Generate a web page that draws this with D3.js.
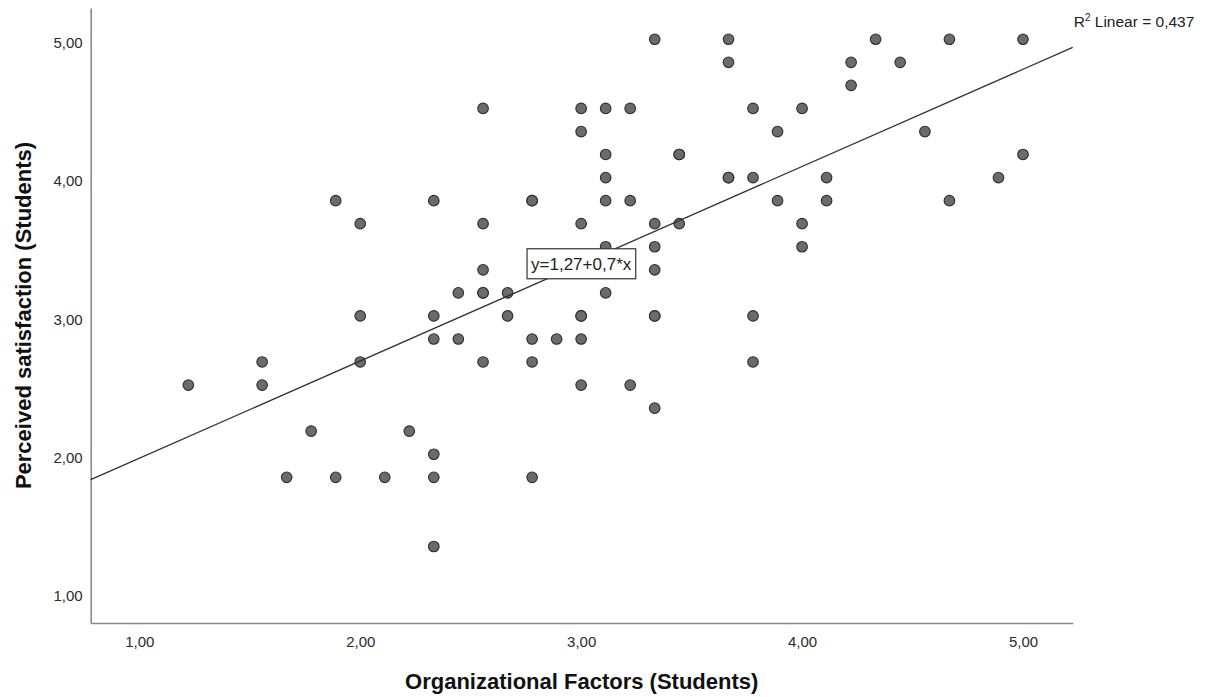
<!DOCTYPE html>
<html>
<head>
<meta charset="utf-8">
<script src="https://cdn.jsdelivr.net/npm/d3@7"></script>
<style>
  body { margin: 0; background: #fff; }
  svg { display: block; }
  text { font-family: "Liberation Sans", Arial, sans-serif; }
</style>
</head>
<body>
<svg id="chart" width="1208" height="697"></svg>
<script>
// ---- Data ----
const orgFactors = [
  1.222, 1.556, 1.556, 1.667, 1.778, 1.889, 1.889, 2.000, 2.000, 2.000,
  2.111, 2.222, 2.333, 2.333, 2.333, 2.333, 2.333, 2.333, 2.444, 2.444,
  2.556, 2.556, 2.556, 2.556, 2.556, 2.556, 2.667, 2.667, 2.778, 2.778,
  2.778, 2.778, 2.778, 2.889, 3.000, 3.000, 3.000, 3.000, 3.000, 3.000,
  3.000, 3.111, 3.111, 3.111, 3.111, 3.111, 3.111, 3.222, 3.222, 3.222,
  3.333, 3.333, 3.333, 3.333, 3.333, 3.333, 3.333, 3.444, 3.444, 3.444,
  3.667, 3.667, 3.667, 3.667, 3.778, 3.778, 3.778, 3.778, 3.889, 3.889,
  4.000, 4.000, 4.000, 4.111, 4.111, 4.222, 4.222, 4.333, 4.444, 4.556,
  4.667, 4.667, 4.889, 5.000, 5.000
];
const satisfaction = [
  2.500, 2.667, 2.500, 1.833, 2.167, 3.833, 1.833, 3.667, 3.000, 2.667,
  1.833, 2.167, 3.833, 3.000, 2.833, 2.000, 1.833, 1.333, 3.167, 2.833,
  4.500, 3.667, 3.333, 3.167, 3.167, 2.667, 3.167, 3.000, 3.833, 3.833,
  2.833, 2.667, 1.833, 2.833, 4.500, 4.333, 3.667, 3.000, 3.000, 2.833,
  2.500, 4.500, 4.167, 4.000, 3.833, 3.500, 3.167, 4.500, 3.833, 2.500,
  5.000, 3.667, 3.500, 3.333, 3.000, 3.000, 2.333, 4.167, 4.167, 3.667,
  5.000, 4.833, 4.000, 4.000, 4.500, 4.000, 3.000, 2.667, 4.333, 3.833,
  4.500, 3.667, 3.500, 4.000, 3.833, 4.833, 4.667, 5.000, 4.833, 4.333,
  5.000, 3.833, 4.000, 5.000, 4.167
];
const xTickValues = [1, 2, 3, 4, 5];
const xTickLabels = ["1,00", "2,00", "3,00", "4,00", "5,00"];
const yTickValues = [1, 2, 3, 4, 5];
const yTickLabels = ["1,00", "2,00", "3,00", "4,00", "5,00"];
const fitIntercept = 1.268;
const fitSlope = 0.703;
const fitEquationLabel = "y=1,27+0,7*x";
const r2Value = "0,437";
const xTitle = "Organizational Factors (Students)";
const yTitle = "Perceived satisfaction (Students)";

// ---- Layout ----
const plot = { left: 90.7, right: 1072.7, top: 8, bottom: 623 };
const xDomain = [0.78, 5.225];
const yDomain = [0.78, 5.226];

const svg = d3.select("#chart");
const x = d3.scaleLinear().domain(xDomain).range([plot.left, plot.right]);
const y = d3.scaleLinear().domain(yDomain).range([plot.bottom, plot.top]);

const points = orgFactors.map((v, i) => ({ x: v, y: satisfaction[i] }));

// Axes
const xAxis = d3.axisBottom(x)
  .tickValues(xTickValues)
  .tickFormat((d, i) => xTickLabels[i])
  .tickSize(0).tickSizeOuter(0).tickPadding(13);
const yAxis = d3.axisLeft(y)
  .tickValues(yTickValues)
  .tickFormat((d, i) => yTickLabels[i])
  .tickSize(0).tickSizeOuter(0).tickPadding(8);

const gx = svg.append("g").attr("transform", `translate(0,${plot.bottom})`).call(xAxis);
const gy = svg.append("g").attr("transform", `translate(${plot.left},0)`).call(yAxis);
[gx, gy].forEach(g => {
  g.select(".domain").attr("stroke", "#8a8a8a").attr("stroke-width", 1.6);
  g.selectAll("text")
    .attr("fill", "#2b2b2b")
    .style("font-family", "'Liberation Sans', Arial, sans-serif")
    .style("font-size", "15px");
});
gy.selectAll("text").attr("dy", "0.54em");

// Points
svg.append("g")
  .selectAll("circle")
  .data(points)
  .join("circle")
  .attr("cx", d => x(d.x))
  .attr("cy", d => y(d.y))
  .attr("r", 5.3)
  .attr("fill", "#6b6b6b")
  .attr("stroke", "#2e2e2e")
  .attr("stroke-width", 1.1);

// Fit line
const fit = v => fitIntercept + fitSlope * v;
svg.append("line")
  .attr("x1", x(xDomain[0])).attr("y1", y(fit(xDomain[0])))
  .attr("x2", x(xDomain[1])).attr("y2", y(fit(xDomain[1])))
  .attr("stroke", "#303030")
  .attr("stroke-width", 1.3);

// Equation label box, centred on the line at x = 3
const eqX = x(3), eqY = y(fit(3));
const eqG = svg.append("g").attr("transform", `translate(${eqX},${eqY})`);
const eqText = eqG.append("text")
  .attr("text-anchor", "middle")
  .attr("dy", "0.36em")
  .style("font-size", "17px")
  .attr("fill", "#222")
  .text(fitEquationLabel);
const bb = eqText.node().getBBox();
eqG.insert("rect", "text")
  .attr("x", bb.x - 4).attr("y", -15)
  .attr("width", bb.width + 8).attr("height", 30)
  .attr("fill", "#fff")
  .attr("stroke", "#333")
  .attr("stroke-width", 1.2);

// R² label
const r2 = svg.append("text")
  .attr("x", plot.right + 1)
  .attr("y", y(fit(xDomain[1])) - 20.5)
  .style("font-size", "15.5px")
  .attr("fill", "#222");
r2.append("tspan").text("R");
r2.append("tspan").attr("dy", "-6").style("font-size", "10px").text("2");
r2.append("tspan").attr("dy", "6").text(" Linear = " + r2Value);

// Axis titles
svg.append("text")
  .attr("x", (plot.left + plot.right) / 2)
  .attr("y", 689)
  .attr("text-anchor", "middle")
  .style("font-size", "22px")
  .style("font-weight", "bold")
  .attr("fill", "#111")
  .text(xTitle);

svg.append("text")
  .attr("transform", `translate(31,${(plot.top + plot.bottom) / 2}) rotate(-90)`)
  .attr("text-anchor", "middle")
  .style("font-size", "22px")
  .style("font-weight", "bold")
  .attr("fill", "#111")
  .text(yTitle);
</script>
</body>
</html>
